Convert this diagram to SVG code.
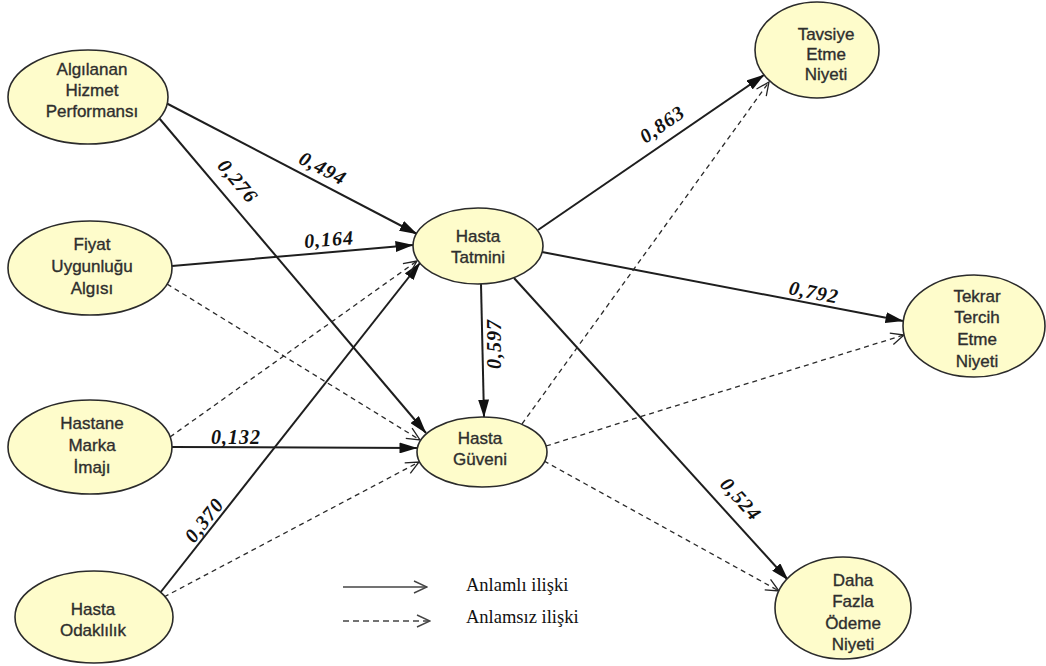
<svg xmlns="http://www.w3.org/2000/svg" width="1046" height="666" viewBox="0 0 1046 666">
  <style>
    .node { fill: #FEFCCB; stroke: #2b2b2b; stroke-width: 1.6; }
    .nt { font-family: "Liberation Sans", Arial, sans-serif; font-size: 17px; fill: #2e2e2e; stroke: #2e2e2e; stroke-width: 0.35; text-anchor: middle; }
    .sig { stroke: #1e1e1e; stroke-width: 2; fill: none; marker-end: url(#head-solid); }
    .ns { stroke: #2a2a2a; stroke-width: 1.3; fill: none; stroke-dasharray: 5 4; marker-end: url(#head-open); }
    .lb { font-family: "Liberation Serif", "Times New Roman", serif; font-size: 20px; font-style: italic; font-weight: bold; fill: #111; text-anchor: middle; letter-spacing: 1px; }
    .key { stroke: #444; stroke-width: 1.5; fill: none; marker-end: url(#head-key); }
    .lg { font-family: "Liberation Serif", "Times New Roman", serif; font-size: 18.5px; fill: #111; }
  </style>
  <defs>
    <marker id="head-solid" viewBox="0 0 18 11" markerWidth="18" markerHeight="11" refX="17.5" refY="5.5" orient="auto" markerUnits="userSpaceOnUse">
      <path d="M0,0 L18,5.5 L0,11 z" fill="#111"/>
    </marker>
    <marker id="head-open" viewBox="0 0 15 14" markerWidth="15" markerHeight="14" refX="14" refY="7" orient="auto" markerUnits="userSpaceOnUse">
      <path d="M1,1 L14,7 L1,13" fill="none" stroke="#222" stroke-width="1.3"/>
    </marker>
    <marker id="head-key" viewBox="0 0 15 14" markerWidth="15" markerHeight="14" refX="14" refY="7" orient="auto" markerUnits="userSpaceOnUse">
      <path d="M1,1 L14,7 L1,13" fill="none" stroke="#444" stroke-width="1.4"/>
    </marker>
  </defs>

  <!-- paths between constructs -->
  <g id="connectors">
    <!-- significant paths -->
    <line class="sig" x1="166" y1="103" x2="417" y2="234"/>
    <line class="sig" x1="159" y1="118" x2="426" y2="433"/>
    <line class="sig" x1="172" y1="266" x2="413" y2="245"/>
    <line class="sig" x1="172" y1="447" x2="417" y2="448"/>
    <line class="sig" x1="160" y1="593" x2="420" y2="263"/>
    <line class="sig" x1="481" y1="284" x2="484" y2="417"/>
    <line class="sig" x1="538" y1="230" x2="764" y2="75"/>
    <line class="sig" x1="542" y1="252" x2="903" y2="321"/>
    <line class="sig" x1="514" y1="278" x2="788" y2="580"/>
    <!-- non-significant paths -->
    <line class="ns" x1="167" y1="284" x2="420" y2="440"/>
    <line class="ns" x1="170" y1="437" x2="417" y2="261"/>
    <line class="ns" x1="164" y1="597" x2="419" y2="462"/>
    <line class="ns" x1="522" y1="424" x2="769" y2="82"/>
    <line class="ns" x1="546" y1="446" x2="904" y2="335"/>
    <line class="ns" x1="544" y1="461" x2="779" y2="591"/>

    <!-- path coefficients -->
    <text class="lb" transform="translate(323,168) rotate(27.5)" y="7">0,494</text>
    <text class="lb" transform="translate(238,181) rotate(50)" y="7">0,276</text>
    <text class="lb" transform="translate(329,239) rotate(-4.5)" y="7">0,164</text>
    <text class="lb" transform="translate(236,437)" y="7">0,132</text>
    <text class="lb" transform="translate(204,520) rotate(-52)" y="7">0,370</text>
    <text class="lb" transform="translate(494,344) rotate(-90)" y="7">0,597</text>
    <text class="lb" transform="translate(662,124) rotate(-35)" y="7">0,863</text>
    <text class="lb" transform="translate(814,292) rotate(11)" y="7">0,792</text>
    <text class="lb" transform="translate(741,499) rotate(48)" y="7">0,524</text>
  </g>

  <!-- constructs -->
  <g id="n-algilanan">
    <ellipse class="node" cx="88" cy="97" rx="80" ry="47"/>
    <text class="nt"><tspan x="92" y="75">Algılanan</tspan><tspan x="92" y="96">Hizmet</tspan><tspan x="92" y="117">Performansı</tspan></text>
  </g>
  <g id="n-fiyat">
    <ellipse class="node" cx="90" cy="268" rx="82" ry="47"/>
    <text class="nt"><tspan x="92" y="250">Fiyat</tspan><tspan x="92" y="272">Uygunluğu</tspan><tspan x="92" y="294">Algısı</tspan></text>
  </g>
  <g id="n-marka">
    <ellipse class="node" cx="90" cy="447" rx="82" ry="47"/>
    <text class="nt"><tspan x="92" y="429">Hastane</tspan><tspan x="92" y="451">Marka</tspan><tspan x="92" y="473">İmajı</tspan></text>
  </g>
  <g id="n-odaklilik">
    <ellipse class="node" cx="94" cy="617" rx="79" ry="46"/>
    <text class="nt"><tspan x="93" y="615">Hasta</tspan><tspan x="93" y="636">Odaklılık</tspan></text>
  </g>
  <g id="n-tatmin">
    <ellipse class="node" cx="478" cy="246" rx="65" ry="38"/>
    <text class="nt"><tspan x="478" y="242">Hasta</tspan><tspan x="478" y="263">Tatmini</tspan></text>
  </g>
  <g id="n-guven">
    <ellipse class="node" cx="482" cy="452" rx="65" ry="35"/>
    <text class="nt"><tspan x="480" y="444">Hasta</tspan><tspan x="480" y="465">Güveni</tspan></text>
  </g>
  <g id="n-tavsiye">
    <ellipse class="node" cx="817" cy="50" rx="62" ry="48"/>
    <text class="nt"><tspan x="826" y="40">Tavsiye</tspan><tspan x="826" y="60">Etme</tspan><tspan x="826" y="80">Niyeti</tspan></text>
  </g>
  <g id="n-tekrar">
    <ellipse class="node" cx="974" cy="326" rx="71" ry="51"/>
    <text class="nt"><tspan x="977" y="302">Tekrar</tspan><tspan x="977" y="323">Tercih</tspan><tspan x="977" y="345">Etme</tspan><tspan x="977" y="367">Niyeti</tspan></text>
  </g>
  <g id="n-odeme">
    <ellipse class="node" cx="843" cy="608" rx="68" ry="51"/>
    <text class="nt"><tspan x="853" y="586">Daha</tspan><tspan x="853" y="607">Fazla</tspan><tspan x="853" y="629">Ödeme</tspan><tspan x="853" y="650">Niyeti</tspan></text>
  </g>

  <!-- key -->
  <g id="legend">
    <line class="key" x1="343" y1="587" x2="427" y2="587"/>
    <line class="key" x1="343" y1="621" x2="430" y2="621" stroke-dasharray="6 4"/>
    <text class="lg" x="466" y="591">Anlamlı ilişki</text>
    <text class="lg" x="466" y="623">Anlamsız ilişki</text>
  </g>
</svg>
